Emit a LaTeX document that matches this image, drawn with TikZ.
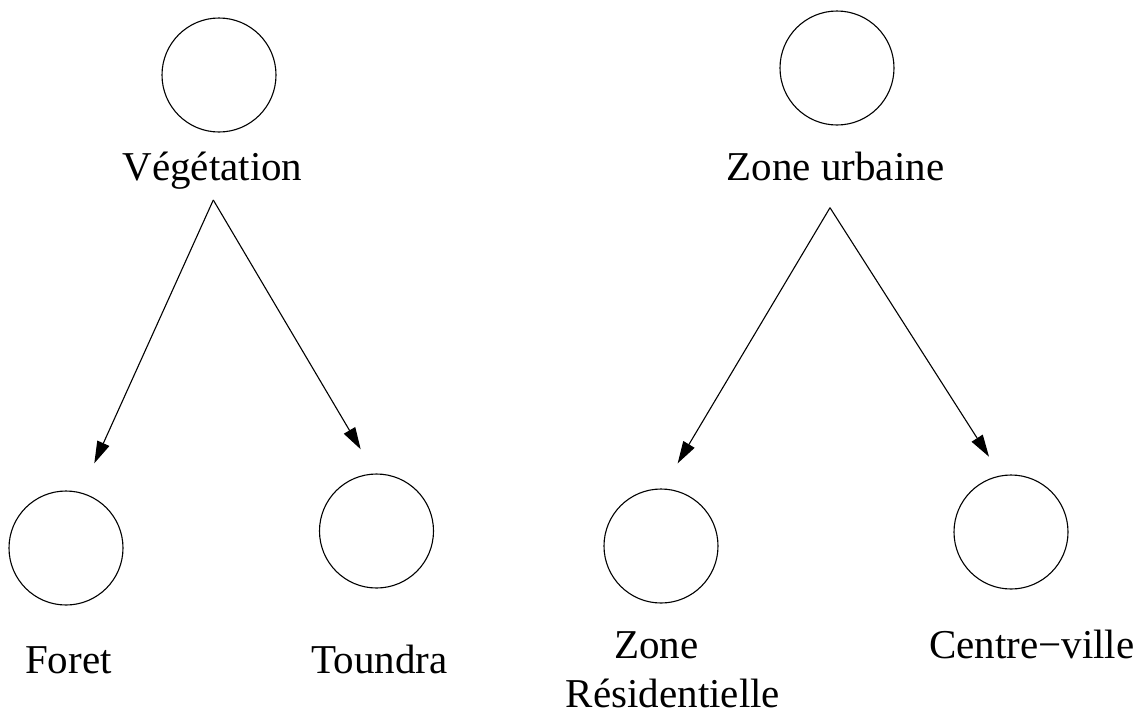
\documentclass[tikz,border=0pt]{standalone}
\usepackage{fontspec}
\setmainfont{Liberation Serif}
\usetikzlibrary{arrows.meta}
\begin{document}
\begin{tikzpicture}[x=1pt,y=-1pt,
  blob/.style={circle,draw,line width=1.1pt,minimum size=114pt,inner sep=0pt},
  lbl/.style={anchor=base,inner sep=0pt,font=\fontsize{41}{49}\selectfont},
  link/.style={line width=1.1pt,-{Triangle[length=22pt,width=13pt]}}]
\useasboundingbox (0,0) rectangle (1148,713);
% circles
\node[blob] (cveg) at (219,75) {};
\node[blob] (curb) at (837,68) {};
\node[blob] (cfor) at (66,548) {};
\node[blob] (ctou) at (376.5,531) {};
\node[blob] (cres) at (661,546) {};
\node[blob] (ccen) at (1011,532) {};
% labels
\node[lbl] (tveg) at (212.5,180) {Végétation};
\node[lbl] (turb) at (835.5,180) {Zone urbaine};
\node[lbl] (tfor) at (68.4,673) {Foret};
\node[lbl] (ttou) at (379.5,673) {Toundra};
\node[lbl] (tzon) at (656.5,658) {Zone};
\node[lbl,text depth=0pt] (tres) at (673,707) {Résidentielle};
\node[lbl] (tcen) at (1031.7,658) {Centre−ville};
% connector ends
\coordinate (aveg) at (213.3,200);
\coordinate (afor) at (94.3,463.3);
\coordinate (atou) at (360.7,449.3);
\coordinate (aurb) at (830,207.7);
\coordinate (ares) at (677.7,463.3);
\coordinate (acen) at (989,456.7);
\draw[link] (aveg) -- (afor);
\draw[link] (aveg) -- (atou);
\draw[link] (aurb) -- (ares);
\draw[link] (aurb) -- (acen);
\end{tikzpicture}
\end{document}
